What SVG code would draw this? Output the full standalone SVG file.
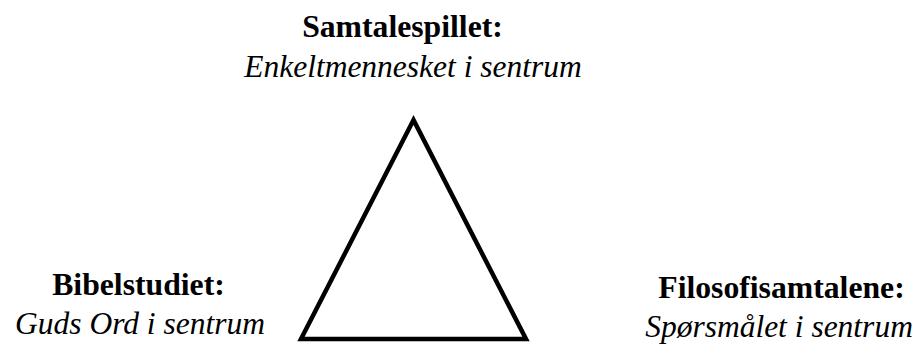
<svg xmlns="http://www.w3.org/2000/svg" width="923" height="344" viewBox="0 0 923 344">
<style>
.b{font-family:"Liberation Serif","Times New Roman",serif;font-weight:bold;font-size:31.7px;text-anchor:middle;fill:#000}
.i{font-family:"Liberation Serif","Times New Roman",serif;font-style:italic;font-size:31.5px;text-anchor:middle;fill:#000}
</style>
<rect width="923" height="344" fill="#fff"/>
<g id="connectors">
<polygon points="413.5,120 301,339 526,339" fill="none" stroke="#000" stroke-width="4.5" stroke-linejoin="miter"/>
</g>
<g id="top">
<text class="b" x="402.5" y="36.5">Samtalespillet:</text>
<text class="i" x="413" y="76.5">Enkeltmennesket i sentrum</text>
</g>
<g id="left">
<text class="b" x="138.5" y="295">Bibelstudiet:</text>
<text class="i" x="140" y="334">Guds Ord i sentrum</text>
</g>
<g id="right">
<text class="b" x="781.5" y="298">Filosofisamtalene:</text>
<text class="i" x="779" y="337">Spørsmålet i sentrum</text>
</g>
</svg>
